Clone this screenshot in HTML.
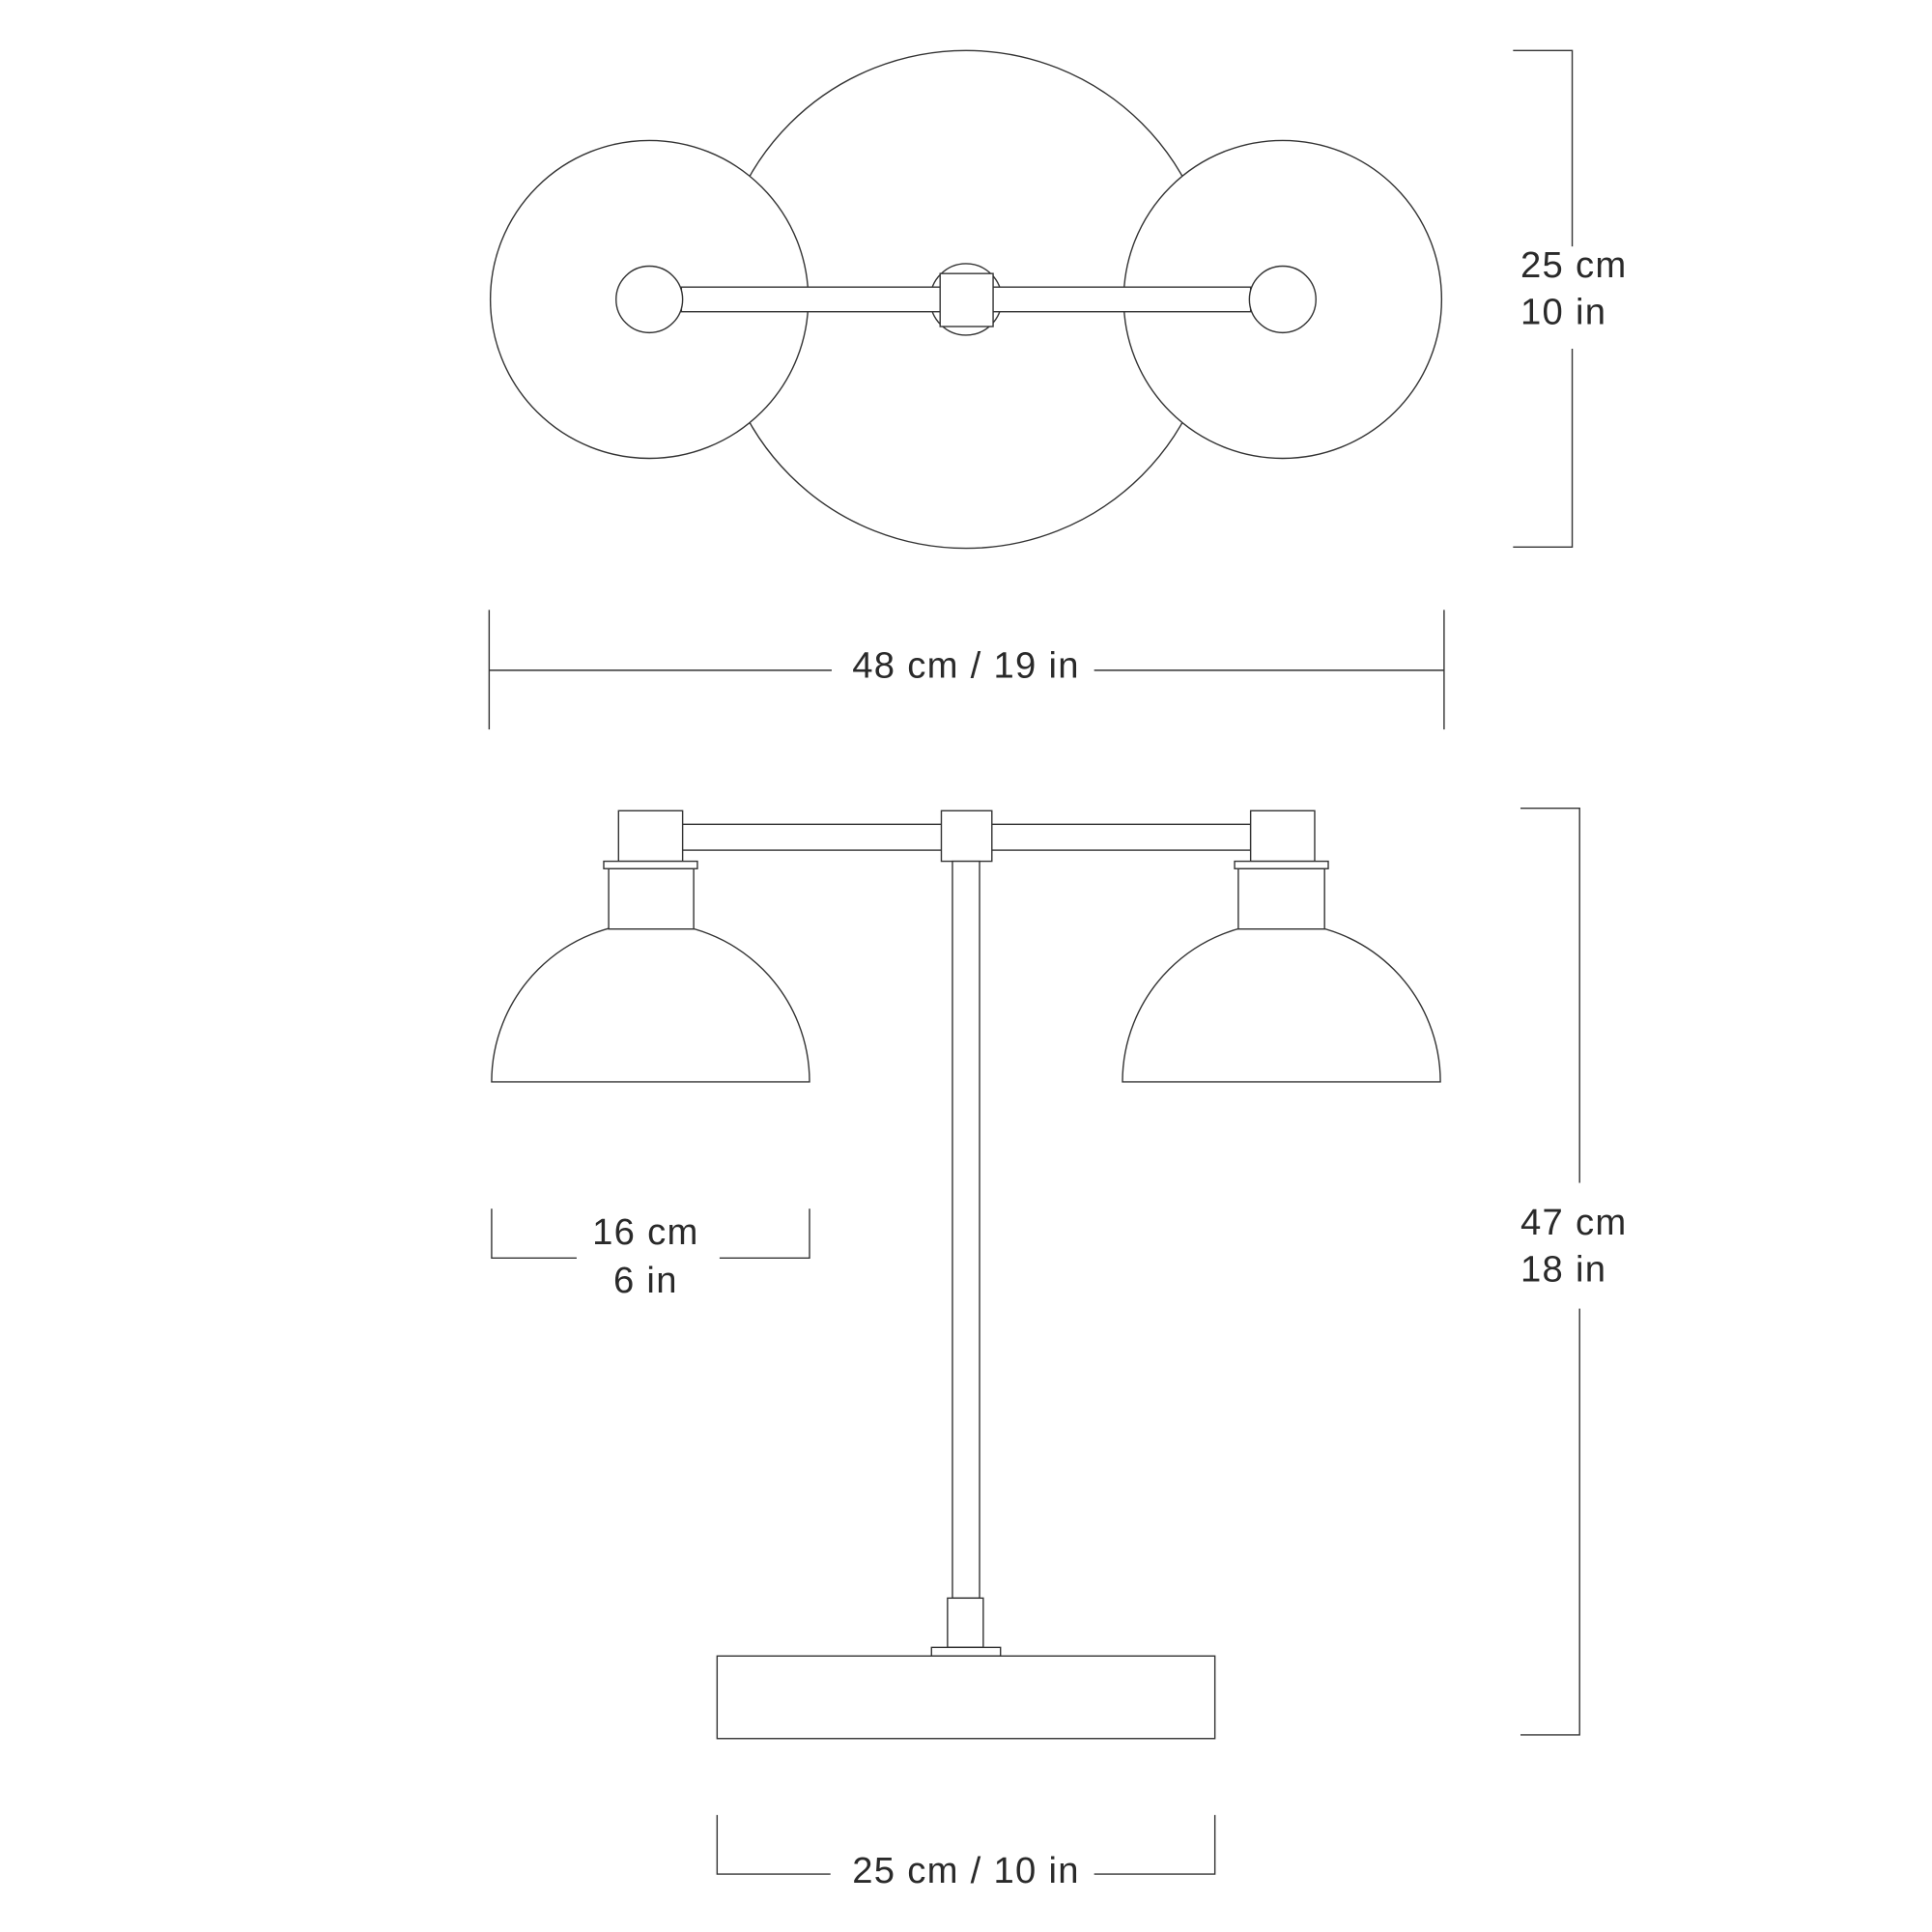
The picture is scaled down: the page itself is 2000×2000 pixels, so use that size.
<!DOCTYPE html>
<html><head><meta charset="utf-8"><style>
html,body{margin:0;padding:0;background:#fff;}
svg{display:block;}
text{font-family:"Liberation Sans",sans-serif;font-size:30px;letter-spacing:1px;fill:#2a2a2a;}
</style></head><body>
<svg width="2000" height="2000" viewBox="0 0 1568 1568" xmlns="http://www.w3.org/2000/svg">
<g fill="#fff" stroke="#333" stroke-width="1.1">
<circle cx="784" cy="243" r="202"/>
<circle cx="527" cy="243" r="129"/>
<circle cx="1041" cy="243" r="129"/>
<circle cx="784" cy="243" r="29"/>
<rect x="553" y="233" width="462" height="20"/>
<rect x="763" y="222" width="43" height="43"/>
<circle cx="527" cy="243" r="27"/>
<circle cx="1041" cy="243" r="27"/>
<rect x="553" y="669" width="462" height="21"/>
<rect x="764" y="658" width="41" height="41"/>
<rect x="502" y="658" width="52" height="41"/>
<rect x="1015" y="658" width="52" height="41"/>
<path d="M399,878 A129,129 0 0 1 657,878 Z"/>
<path d="M911,878 A129,129 0 0 1 1169,878 Z"/>
<rect x="494" y="705" width="69" height="49"/>
<rect x="1005" y="705" width="70" height="49"/>
<rect x="490" y="699" width="76" height="6"/>
<rect x="1002" y="699" width="76" height="6"/>
<rect x="773" y="699" width="22" height="598"/>
<rect x="769" y="1297" width="29" height="40"/>
<rect x="756" y="1337" width="56" height="7"/>
<rect x="582" y="1344" width="404" height="67"/>
</g>
<g fill="none" stroke="#333" stroke-width="1.1">
<path d="M1228,41H1276V200M1276,283V444H1228"/>
<path d="M397,495V592M1172,495V592M397,544H675M888,544H1172"/>
<path d="M399,981V1021H468M584,1021H657V981"/>
<path d="M1234,656H1282V960M1282,1062V1408H1234"/>
<path d="M582,1473V1521H674M888,1521H986V1473"/>
</g>
<text x="1234" y="225">25 cm</text>
<text x="1234" y="263">10 in</text>
<text x="784" y="550" text-anchor="middle">48 cm / 19 in</text>
<text x="524" y="1010" text-anchor="middle">16 cm</text>
<text x="524" y="1049" text-anchor="middle">6 in</text>
<text x="1234" y="1002">47 cm</text>
<text x="1234" y="1040">18 in</text>
<text x="784" y="1528" text-anchor="middle">25 cm / 10 in</text>
</svg>
</body></html>
